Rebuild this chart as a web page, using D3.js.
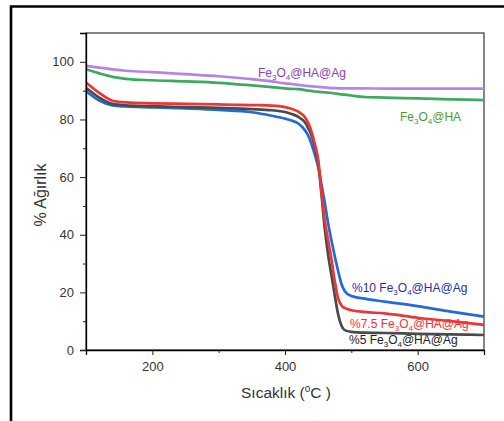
<!DOCTYPE html>
<html>
<head>
    <title>TGA</title>
    <meta charset="utf-8">
    <script src="https://d3js.org/d3.v7.min.js"></script>
    <style>
        body { margin: 0; background: #fff; }
        svg text { font-family: 'Liberation Sans', Arial, sans-serif; }
    </style>
</head>
<body>
<div id="chart"></div>
<script>
        // temperatures (°C)
        const temps = [100, 120, 140, 160, 200, 250, 300, 350, 380, 400, 410, 420, 430, 435, 440, 445, 450, 455, 460, 465, 470, 475, 480, 485, 490, 500, 520, 550, 600, 650, 700];

        // weight % for each sample
        const agHA = [98.6, 98.0, 97.4, 96.9, 96.4, 95.7, 95.0, 94.0, 93.2, 92.5, 92.3, 92.0, 91.7, 91.6, 91.5, 91.4, 91.3, 91.2, 91.1, 91.0, 90.9, 90.9, 90.8, 90.8, 90.8, 90.8, 90.8, 90.7, 90.7, 90.7, 90.7];
        const feHA = [97.4, 96.0, 94.8, 94.1, 93.6, 93.2, 92.7, 91.8, 91.2, 90.8, 90.6, 90.5, 90.2, 90.0, 89.9, 89.7, 89.6, 89.5, 89.4, 89.3, 89.2, 89.0, 88.9, 88.7, 88.6, 88.3, 87.8, 87.6, 87.3, 87.0, 86.7];
        const p75 = [92.8, 89.2, 86.5, 85.9, 85.6, 85.4, 85.2, 85.0, 84.8, 84.3, 83.7, 82.7, 80.8, 78.8, 75.8, 71.5, 66.0, 55.0, 45.0, 38.0, 31.5, 24.0, 18.0, 15.5, 14.6, 13.8, 13.2, 12.7, 11.2, 10.0, 8.7];
        const p5 = [91.0, 87.6, 85.4, 84.9, 84.6, 84.3, 84.0, 83.6, 83.2, 82.6, 81.9, 80.9, 79.0, 77.0, 74.5, 70.5, 65.0, 54.0, 42.0, 33.0, 26.0, 19.0, 12.5, 8.5, 6.9, 6.3, 6.0, 5.9, 5.6, 5.4, 5.2];
        const p10 = [89.8, 86.6, 84.9, 84.5, 84.2, 83.8, 83.3, 82.5, 81.3, 80.3, 79.6, 78.6, 76.3, 74.4, 71.5, 67.8, 63.5, 57.5, 51.0, 44.0, 38.0, 32.5, 27.5, 23.0, 20.5, 18.7, 17.8, 16.8, 15.2, 13.3, 11.6];

        const xTicks = [200, 400, 600];
        const yTicks = [0, 20, 40, 60, 80, 100];

        const width = 504, height = 421;
        const margin = { top: 33, right: 20, bottom: 71, left: 86 };

        const svg = d3.select('#chart').append('svg')
            .attr('width', width)
            .attr('height', height);

        // outer frame (only top and left edges show)
        svg.append('path')
            .attr('d', `M11,${height} L11,6.5 L${width},6.5`)
            .attr('fill', 'none')
            .attr('stroke', '#000')
            .attr('stroke-width', 2.6);

        const x = d3.scaleLinear().domain([100, 700]).range([margin.left, width - margin.right]);
        const y = d3.scaleLinear().domain([0, 110]).range([height - margin.bottom, margin.top]);

        // plot box
        svg.append('rect')
            .attr('x', x(100)).attr('y', y(110))
            .attr('width', x(700) - x(100)).attr('height', y(0) - y(110))
            .attr('fill', 'none').attr('stroke', '#444').attr('stroke-width', 1.3);

        const line = d3.line()
            .x((d, i) => x(temps[i]))
            .y(d => y(d))
            .curve(d3.curveMonotoneX);

        const series = [
            { vals: feHA, color: '#3cab5e' },
            { vals: agHA, color: '#b883e6' },
            { vals: p10, color: '#2469db' },
            { vals: p5, color: '#4a4a4a' },
            { vals: p75, color: '#ee3434' }
        ];

        series.forEach(s => {
            svg.append('path')
                .datum(s.vals)
                .attr('fill', 'none')
                .attr('stroke', s.color)
                .attr('stroke-width', 2.7)
                .attr('d', line);
        });

        // axes
        svg.append('g')
            .attr('transform', `translate(0,${y(0)})`)
            .call(d3.axisBottom(x).tickValues(xTicks).tickSize(5).tickPadding(7).tickFormat(d3.format('d')));
        svg.append('g')
            .attr('transform', `translate(0,${y(0)})`)
            .call(d3.axisBottom(x).tickValues([300, 500, 700]).tickSize(3).tickFormat(''))
            .select('.domain').remove();

        svg.append('g')
            .attr('transform', `translate(${x(100)},0)`)
            .call(d3.axisLeft(y).tickValues(yTicks).tickSize(6).tickPadding(6));
        svg.append('g')
            .attr('transform', `translate(${x(100)},0)`)
            .call(d3.axisLeft(y).tickValues([10, 30, 50, 70, 90]).tickSize(3).tickFormat(''))
            .select('.domain').remove();

        svg.selectAll('.tick text')
            .style('font-size', '13px')
            .attr('fill', '#3a3530');
        svg.selectAll('.domain').attr('stroke', '#000').attr('stroke-width', 1.3);
        svg.selectAll('.tick line').attr('stroke', '#222');

        // axis titles
        const xt = svg.append('text')
            .attr('x', 286).attr('y', 398)
            .attr('text-anchor', 'middle')
            .style('font-size', '15.5px')
            .attr('fill', '#333');
        xt.append('tspan').text('Sıcaklık (');
        xt.append('tspan').attr('dy', -6).style('font-size', '10px').text('o');
        xt.append('tspan').attr('dy', 6).text('C )');

        svg.append('text')
            .attr('transform', 'translate(46,195) rotate(-90)')
            .attr('text-anchor', 'middle')
            .style('font-size', '16px')
            .attr('fill', '#333')
            .text('% Ağırlık');

        // series labels with subscripts
        function label(px, py, prefix, tail, color) {
            const t = svg.append('text')
                .attr('x', px).attr('y', py)
                .style('font-size', '12px')
                .attr('fill', color);
            t.append('tspan').text(prefix + 'Fe');
            t.append('tspan').attr('dy', 3).style('font-size', '8px').text('3');
            t.append('tspan').attr('dy', -3).text('O');
            t.append('tspan').attr('dy', 3).style('font-size', '8px').text('4');
            t.append('tspan').attr('dy', -3).text(tail);
        }

        label(258, 77, '', '@HA@Ag', '#8d3db8');
        label(400, 121, '', '@HA', '#4e9a2c');
        label(352, 292, '%10 ', '@HA@Ag', '#2b2bb0');
        label(350, 328, '%7.5 ', '@HA@Ag', '#ff2e2e');
        label(349, 344, '%5 ', '@HA@Ag', '#222');
</script>
</body>
</html>
